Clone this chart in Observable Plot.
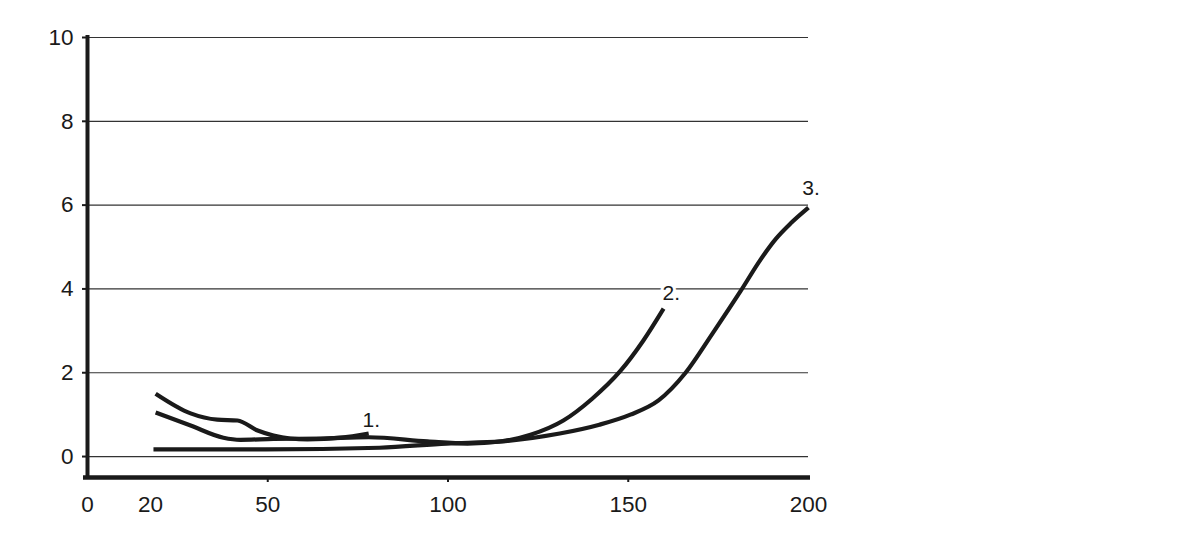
<!DOCTYPE html>
<html>
<head>
<meta charset="utf-8">
<script src="https://cdn.jsdelivr.net/npm/d3@7"></script>
<script src="https://cdn.jsdelivr.net/npm/@observablehq/plot@0.6"></script>
<style>
  html, body { margin: 0; padding: 0; background: #fff; }
  svg { display: block; }
</style>
</head>
<body>
<div id="chart"></div>
<script>
// Series 1
const s1x = [18.9, 28.6, 36, 41.6, 47.2, 51.6, 56.3, 61, 70.2, 78];
const s1y = [1.5, 1.03, 0.88, 0.86, 0.62, 0.50, 0.43, 0.41, 0.45, 0.55];
// Series 2
const s2x = [18.9, 28.6, 37.7, 42.4, 51.6, 64.6, 78, 94.3, 105.4, 114.6, 122.9, 132, 140, 147.7, 154.2, 159.8];
const s2y = [1.05, 0.74, 0.45, 0.40, 0.42, 0.43, 0.46, 0.36, 0.31, 0.36, 0.52, 0.86, 1.38, 2.03, 2.77, 3.53];
// Series 3
const s3x = [18.3, 49.4, 81, 99.6, 114.6, 131, 142, 150.6, 158.4, 165.9, 173.4, 181.1, 186.7, 191, 195, 200];
const s3y = [0.17, 0.17, 0.21, 0.31, 0.36, 0.55, 0.76, 1.0, 1.34, 2.0, 2.94, 3.94, 4.70, 5.2, 5.56, 5.94];

// Curve labels
const labelText = ["1.", "2.", "3."];
const labelX = [76.3, 159.5, 198.3];
const labelY = [0.86, 3.89, 6.4];

// Axis ticks
const yTicks = [0, 2, 4, 6, 8, 10];
const xTickLabels = [0, 50, 100, 150, 200];
const xTickExtra = [20];
const xTickMarks = [50, 100, 150];

const rows = [];
[[s1x, s1y, "1"], [s2x, s2y, "2"], [s3x, s3y, "3"]].forEach(([xs, ys, k]) => {
  xs.forEach((x, i) => rows.push({x, y: ys[i], series: k}));
});
const labels = labelText.map((t, i) => ({t, x: labelX[i], y: labelY[i]}));

const font = "'Liberation Sans', Arial, sans-serif";
const fs = 22.5;

const chart = Plot.plot({
  width: 1199,
  height: 538,
  marginLeft: 87,
  marginRight: 391,
  marginTop: 37,
  marginBottom: 61,
  style: {fontFamily: font, fontSize: fs + "px", background: "#fff", color: "#1a1a1a"},
  x: {domain: [0, 200]},
  y: {domain: [-0.5, 10]},
  marks: [
    Plot.ruleY(yTicks, {stroke: "#333", strokeWidth: 1.2}),
    Plot.axisY({ticks: yTicks, tickSize: 5, tickPadding: 9, tickFormat: d => String(d), strokeWidth: 2, fontSize: fs, label: null}),
    Plot.axisX({ticks: xTickLabels, tickSize: 0, tickPadding: 19, tickFormat: d => String(d), fontSize: fs, label: null}),
    Plot.axisX({ticks: xTickExtra, tickSize: 0, tickPadding: 19, dx: -9, tickFormat: d => String(d), fontSize: fs, label: null}),
    Plot.axisX({ticks: xTickMarks, tickSize: 5, tickFormat: () => "", strokeWidth: 2, label: null}),
    Plot.lineY(rows, {x: "x", y: "y", z: "series", curve: "monotone-x", stroke: "#1a1a1a", strokeWidth: 4.2, strokeLinecap: "butt"}),
    Plot.ruleX([0], {stroke: "#1a1a1a", strokeWidth: 4, insetTop: -2, insetBottom: -2}),
    Plot.ruleY([-0.5], {stroke: "#1a1a1a", strokeWidth: 4.5, insetLeft: -4, insetRight: -2}),
    Plot.text(labels, {x: "x", y: "y", text: "t", textAnchor: "start", lineAnchor: "middle", fontSize: 21, fill: "#1a1a1a", stroke: "white", strokeWidth: 6, paintOrder: "stroke"})
  ]
});
document.getElementById("chart").appendChild(chart);
</script>
</body>
</html>
